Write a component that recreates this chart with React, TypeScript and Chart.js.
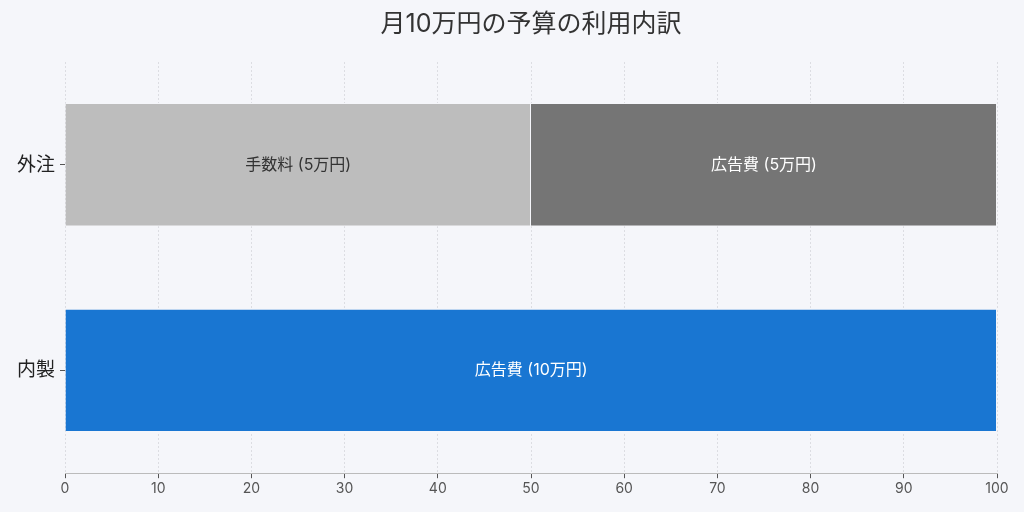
import { useEffect, useRef } from "react"
import { Chart, registerables } from "chart.js"
import type { Plugin } from "chart.js"

Chart.register(...registerables)

const categories = ["外注", "内製"]
const seriesNames = ["手数料", "広告費", "広告費"]
// share of the 10万円 budget, in percent
const feeShare = [50, 0]
const adShareOutsourced = [50, 0]
const adShareInhouse = [0, 100]
// amounts shown inside each bar, in 万円
const feeAmounts = [5, 0]
const adAmountsOutsourced = [5, 0]
const adAmountsInhouse = [0, 10]
const xTicks = [0, 10, 20, 30, 40, 50, 60, 70, 80, 90, 100]

const FONT = "Inter, 'Noto Sans CJK JP', sans-serif"

// Draw "name (x万円)" in the middle of each segment
const barLabels: Plugin<"bar"> = {
  id: "barLabels",
  afterDatasetsDraw(chart) {
    const { ctx } = chart
    const amounts = [feeAmounts, adAmountsOutsourced, adAmountsInhouse]
    const textColors = ["#333333", "#ffffff", "#ffffff"]
    ctx.save()
    ctx.font = `16px ${FONT}`
    ctx.textAlign = "center"
    ctx.textBaseline = "middle"
    chart.data.datasets.forEach((ds, i) => {
      const meta = chart.getDatasetMeta(i)
      meta.data.forEach((bar: any, j) => {
        const v = ds.data[j] as number
        if (!v) return
        const x = (bar.x + bar.base) / 2
        ctx.fillStyle = textColors[i]
        ctx.fillText(`${seriesNames[i]} (${amounts[i][j]}万円)`, x, bar.y)
      })
    })
    ctx.restore()
  },
}

export default function App() {
  const canvasRef = useRef<HTMLCanvasElement>(null)
  const chartRef = useRef<Chart | null>(null)

  useEffect(() => {
    if (!canvasRef.current) return
    document.body.style.margin = "0"
    if (chartRef.current) chartRef.current.destroy()

    chartRef.current = new Chart(canvasRef.current, {
      type: "bar",
      data: {
        labels: categories,
        datasets: [
          {
            label: seriesNames[0],
            data: feeShare,
            backgroundColor: "#bdbdbd",
            borderColor: "#f5f6fa",
            borderWidth: 1,
          },
          {
            label: seriesNames[1],
            data: adShareOutsourced,
            backgroundColor: "#757575",
            borderColor: "#f5f6fa",
            borderWidth: 1,
          },
          {
            label: seriesNames[2],
            data: adShareInhouse,
            backgroundColor: "#1976d2",
            borderColor: "#f5f6fa",
            borderWidth: 1,
          },
        ],
      },
      options: {
        indexAxis: "y",
        animation: false,
        responsive: false,
        maintainAspectRatio: false,
        layout: { padding: { left: 12, right: 27, top: 0, bottom: 13 } },
        datasets: {
          bar: { categoryPercentage: 0.6, barPercentage: 1 },
        },
        scales: {
          x: {
            stacked: true,
            min: 0,
            max: 100,
            afterBuildTicks: (axis) => {
              axis.ticks = xTicks.map((v) => ({ value: v }))
            },
            grid: {
              color: "#dcdde2",
              tickColor: "#555555",
              tickLength: 5,
            },
            border: { display: true, color: "#bbbbbb", dash: [2, 2] },
            ticks: {
              color: "#555555",
              font: { family: FONT, size: 14 },
              padding: 2,
            },
          },
          y: {
            stacked: true,
            grid: {
              offset: false,
              drawOnChartArea: false,
              color: "#555555",
              tickLength: 5,
            },
            border: { display: false },
            ticks: {
              color: "#222222",
              font: { family: FONT, size: 19 },
              padding: 5,
            },
          },
        },
        plugins: {
          legend: { display: false },
          tooltip: { enabled: false },
          title: {
            display: true,
            fullSize: false,
            text: "月10万円の予算の利用内訳",
            color: "#333333",
            font: { family: FONT, size: 25, weight: "normal" },
            padding: { top: 9, bottom: 23 },
          },
        },
      },
      plugins: [barLabels],
    })

    return () => {
      if (chartRef.current) {
        chartRef.current.destroy()
        chartRef.current = null
      }
    }
  }, [])

  return (
    <div style={{ width: 1024, height: 512, background: "#f5f6fa" }}>
      <canvas ref={canvasRef} width={1024} height={512} />
    </div>
  )
}
